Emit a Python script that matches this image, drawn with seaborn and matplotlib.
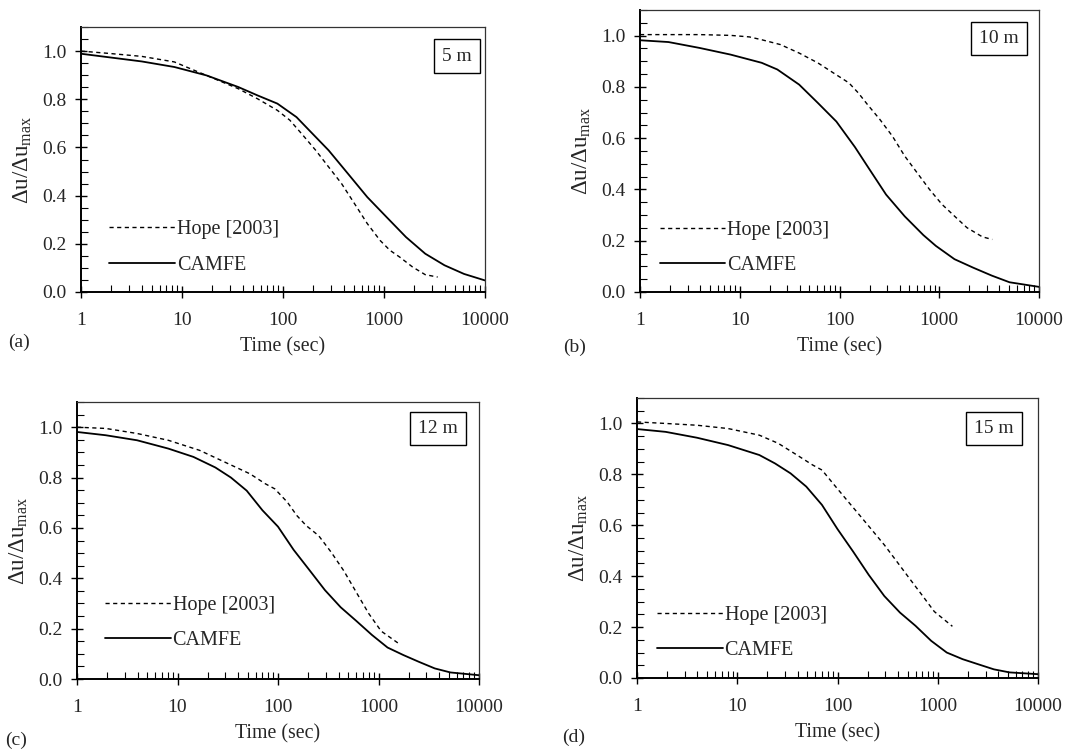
import numpy as np
import pandas as pd
import matplotlib
matplotlib.use("Agg")
import matplotlib.pyplot as plt
from matplotlib.ticker import FixedLocator, FixedFormatter, MultipleLocator, NullFormatter
import seaborn as sns

# ---------------- data ----------------
depths = ["5 m", "10 m", "12 m", "15 m"]
panel_tags = ["(a)", "(b)", "(c)", "(d)"]

camfe_t_a = [1, 2, 4, 8.4, 17.5, 36, 56, 88, 136, 182, 283, 440, 683, 1060, 1650, 2560, 3970, 6200, 10000]
camfe_v_a = [0.989, 0.973, 0.957, 0.934, 0.899, 0.851, 0.816, 0.782, 0.726, 0.671, 0.588, 0.491, 0.394,
             0.311, 0.228, 0.159, 0.111, 0.075, 0.048]
hope_t_a = [1, 1.94, 4.0, 8.4, 12.1, 17.5, 36, 56, 88, 117, 158, 211, 283, 380, 510, 683, 915, 1145,
            1430, 1915, 2560, 3400]
hope_v_a = [1.0, 0.99, 0.978, 0.955, 0.927, 0.899, 0.844, 0.802, 0.754, 0.713, 0.650, 0.588, 0.519,
            0.450, 0.367, 0.284, 0.214, 0.173, 0.145, 0.104, 0.072, 0.062]

camfe_t_b = [1, 1.93, 3.96, 8.1, 16.6, 23.8, 39.4, 60.5, 93, 143, 191, 293, 451, 693, 924, 1422, 2186,
             3360, 5060, 10000]
camfe_v_b = [0.982, 0.975, 0.952, 0.926, 0.894, 0.868, 0.809, 0.738, 0.665, 0.565, 0.49, 0.38, 0.295,
             0.222, 0.18, 0.128, 0.095, 0.064, 0.038, 0.02]
hope_t_b = [1, 1.93, 3.96, 8.1, 12.5, 16.6, 25.6, 39.4, 60.5, 86.5, 124, 154, 191, 254, 339, 451, 600,
            799, 1064, 1422, 1894, 2710, 3400]
hope_v_b = [1.004, 1.004, 1.004, 1.001, 0.995, 0.984, 0.965, 0.932, 0.894, 0.855, 0.816, 0.777, 0.731,
            0.673, 0.608, 0.53, 0.465, 0.40, 0.342, 0.296, 0.251, 0.215, 0.205]

camfe_t_c = [1, 1.93, 3.96, 8.1, 14.4, 23.8, 34, 48.8, 70, 100, 143, 205, 293, 420, 600, 860, 1230,
             1770, 2530, 3630, 5200, 10000]
camfe_v_c = [0.981, 0.968, 0.948, 0.915, 0.882, 0.84, 0.80, 0.748, 0.67, 0.605, 0.513, 0.433, 0.353,
             0.285, 0.231, 0.175, 0.125, 0.095, 0.068, 0.042, 0.026, 0.015]
hope_t_c = [1, 1.93, 3.96, 8.1, 16.6, 29.3, 52.5, 75, 93, 124, 154, 191, 254, 339, 451, 600, 799, 1064, 1600]
hope_v_c = [1.0, 0.995, 0.975, 0.948, 0.908, 0.862, 0.815, 0.775, 0.755, 0.702, 0.649, 0.609, 0.569,
            0.503, 0.430, 0.345, 0.26, 0.19, 0.14]

camfe_t_d = [1, 1.93, 3.96, 8.1, 16.6, 23.8, 34, 48.8, 70, 100, 143, 205, 293, 420, 600, 860, 1230,
             1770, 2530, 3630, 5200, 10000]
camfe_v_d = [0.978, 0.967, 0.944, 0.915, 0.876, 0.843, 0.804, 0.752, 0.68, 0.585, 0.497, 0.405, 0.322,
             0.257, 0.205, 0.146, 0.1, 0.074, 0.054, 0.034, 0.022, 0.015]
hope_t_d = [1, 1.93, 3.96, 8.1, 16.6, 25.6, 39.4, 56.4, 70, 93, 124, 165, 220, 293, 390, 520, 693, 924, 1400]
hope_v_d = [1.006, 1.0, 0.993, 0.98, 0.954, 0.922, 0.876, 0.837, 0.817, 0.758, 0.699, 0.641, 0.582,
            0.523, 0.458, 0.392, 0.327, 0.261, 0.203]

x_ticks = [1, 10, 100, 1000, 10000]
x_tick_labels = ["1", "10", "100", "1000", "10000"]
y_ticks = [0.0, 0.2, 0.4, 0.6, 0.8, 1.0]
y_tick_labels = ["0.0", "0.2", "0.4", "0.6", "0.8", "1.0"]

# ---------------- style ----------------
sns.set_style("ticks")
plt.rcParams["font.family"] = ["Liberation Serif", "DejaVu Serif"]
plt.rcParams["mathtext.fontset"] = "custom"
plt.rcParams["mathtext.rm"] = "Liberation Serif"

fig = plt.figure(figsize=(10.91, 7.56), dpi=100)

W, H = 1091.0, 756.0
# axes boxes in pixels: left, top, right, bottom
boxes = [(81, 27, 485, 292), (640, 10, 1039, 292), (77, 402, 479, 679), (637, 398, 1038, 678)]
tag_pos = [(8, 342), (563, 347), (5, 740), (562, 737)]
legend_anchor = [(0.05, 0.035), (0.03, 0.03), (0.05, 0.075), (0.03, 0.035)]
box_pos = [(0.93, 0.89), (0.90, 0.90), (0.898, 0.904), (0.89, 0.89)]

camfe = [(camfe_t_a, camfe_v_a), (camfe_t_b, camfe_v_b), (camfe_t_c, camfe_v_c), (camfe_t_d, camfe_v_d)]
hope = [(hope_t_a, hope_v_a), (hope_t_b, hope_v_b), (hope_t_c, hope_v_c), (hope_t_d, hope_v_d)]

FS = 13.5
for i in range(4):
    l, t, r, b = boxes[i]
    ax = fig.add_axes([l / W, 1 - b / H, (r - l) / W, (b - t) / H])
    df_h = pd.DataFrame({"t": hope[i][0], "v": hope[i][1]})
    df_c = pd.DataFrame({"t": camfe[i][0], "v": camfe[i][1]})
    sns.lineplot(data=df_h, x="t", y="v", ax=ax, color="black", lw=1.0,
                 linestyle=(0, (3, 2.5)), label="Hope [2003]")
    sns.lineplot(data=df_c, x="t", y="v", ax=ax, color="black", lw=1.3,
                 linestyle="-", label="CAMFE")
    ax.set_xscale("log")
    ax.set_xlim(1, 10000)
    ax.set_ylim(0, 1.1)
    ax.xaxis.set_major_locator(FixedLocator(x_ticks))
    ax.xaxis.set_major_formatter(FixedFormatter(x_tick_labels))
    ax.xaxis.set_minor_locator(FixedLocator([m * d for d in [1, 10, 100, 1000] for m in range(2, 10)]))
    ax.xaxis.set_minor_formatter(NullFormatter())
    ax.yaxis.set_major_locator(FixedLocator(y_ticks))
    ax.yaxis.set_major_formatter(FixedFormatter(y_tick_labels))
    ax.yaxis.set_minor_locator(MultipleLocator(0.05))
    ax.tick_params(which="major", direction="inout", length=9, width=1.0, labelsize=FS + 0.5,
                   color="black")
    ax.tick_params(axis="x", which="major", pad=10)
    ax.tick_params(axis="y", which="major", pad=6)
    ax.tick_params(which="minor", direction="in", length=5, width=0.8, color="black")
    for s in ["left", "bottom"]:
        ax.spines[s].set_linewidth(1.4)
        ax.spines[s].set_color("black")
    for s in ["top", "right"]:
        ax.spines[s].set_linewidth(0.9)
        ax.spines[s].set_color("#333333")
    ax.set_xlabel("Time (sec)", fontsize=FS + 0.8, labelpad=6)
    ax.set_ylabel("Δu/Δu$_{\\mathregular{max}}$", fontsize=FS + 3, labelpad=6)
    ax.legend(loc="lower left", bbox_to_anchor=legend_anchor[i], frameon=False, fontsize=FS + 1,
              handlelength=3.25, handletextpad=0.1, labelspacing=0.8, borderaxespad=0)
    ax.text(box_pos[i][0], box_pos[i][1], depths[i], transform=ax.transAxes, ha="center", va="center",
            fontsize=FS + 0.5,
            bbox=dict(boxstyle="square,pad=0.42", fc="white", ec="black", lw=1.0))
    fig.text(tag_pos[i][0] / W, 1 - tag_pos[i][1] / H, panel_tags[i], fontsize=FS + 0.5, ha="left", va="center")

fig.savefig("out.png", dpi=100)
